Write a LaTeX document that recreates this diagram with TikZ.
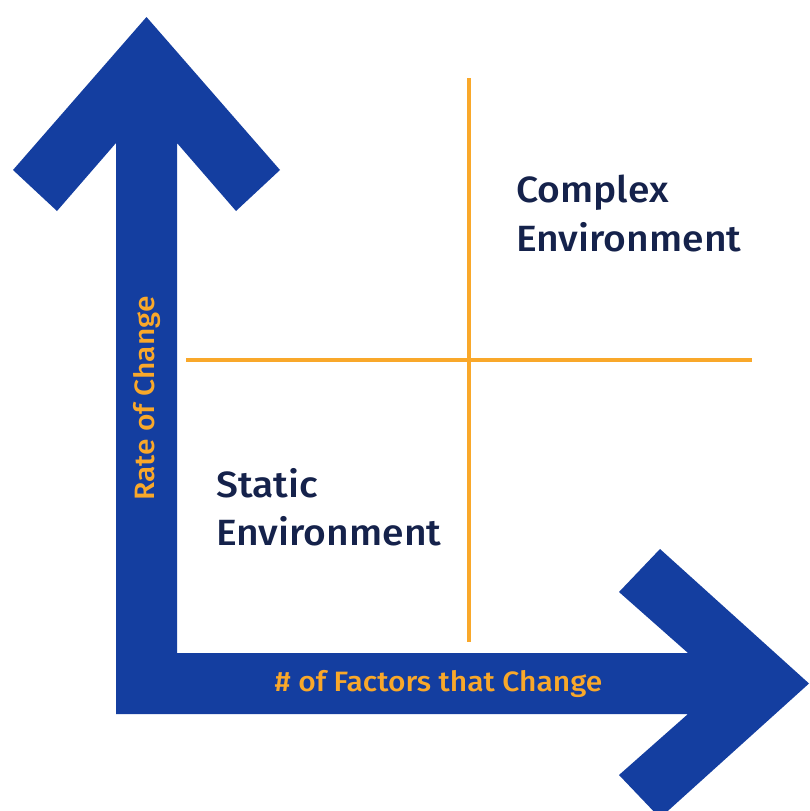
\documentclass[tikz,border=0pt]{standalone}
\usepackage{fontspec}
\setmainfont{Fira Sans}[UprightFont=* Medium, FakeStretch=1.07]
\definecolor{axisblue}{HTML}{143EA0}
\definecolor{gridorange}{HTML}{F9A82A}
\definecolor{labelnavy}{HTML}{15224B}
\begin{document}
\begin{tikzpicture}[x=1pt,y=-1pt,
  quadline/.style={draw=gridorange,line width=3.5pt},
  quadlabel/.style={text=labelnavy,font=\fontsize{36.5}{48.5}\selectfont,align=left,anchor=north west,inner sep=0pt},
  axislabel/.style={text=gridorange,font=\fontsize{28}{32}\selectfont,inner sep=0pt}]
\useasboundingbox (0,0) rectangle (809,811);
\fill[white] (0,0) rectangle (809,811);
% L-shaped double arrow forming the two axes
\fill[axisblue] (146.5,17) -- (280,170) -- (236,211) -- (177,143) -- (177,653)
  -- (688,653) -- (619,592) -- (660,549) -- (809,683.5) -- (660,818) -- (619,775)
  -- (688,714) -- (116,714) -- (116,143) -- (57,211) -- (13,170) -- cycle;
% quadrant dividers
\coordinate (vtop) at (469,78);
\coordinate (vbot) at (469,642);
\coordinate (hleft) at (186,360);
\coordinate (hright) at (752,360);
\draw[quadline] (vtop) -- (vbot);
\draw[quadline] (hleft) -- (hright);
% quadrant labels
\node[quadlabel] (complex) at (516,175) {Complex\\Environment};
\node[quadlabel] (static) at (216,468) {Static\\Environment};
% axis labels
\node[axislabel,rotate=90] (rate) at (147,398.5) {Rate of Change};
\node[axislabel] (factors) at (438.5,683.5) {\# of Factors that Change};
\end{tikzpicture}
\end{document}
